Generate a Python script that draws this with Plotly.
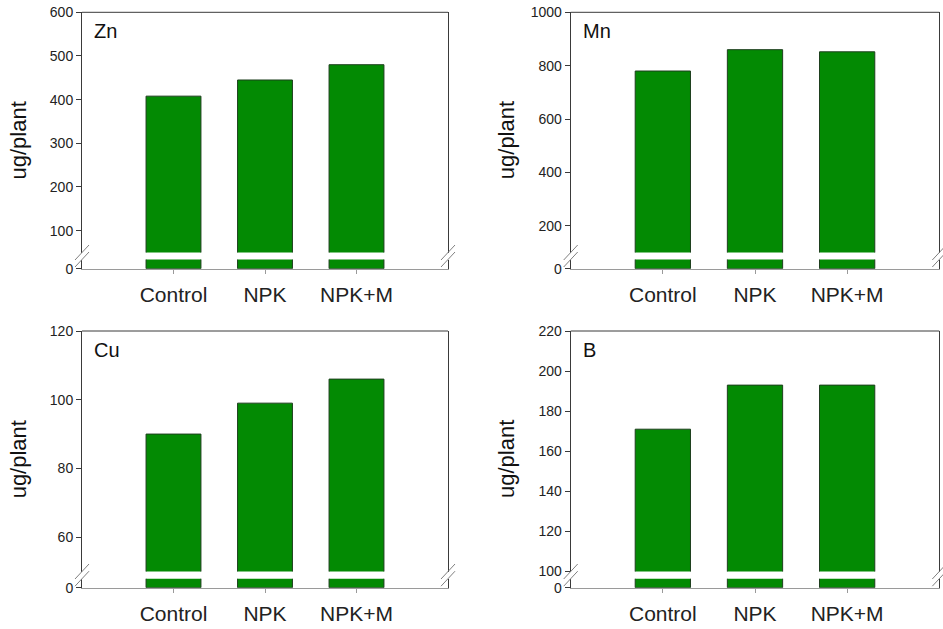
import plotly.graph_objects as go

# Treatments and nutrient uptake (ug/plant)
treatments = ["Control", "NPK", "NPK+M"]
zn = [408, 445, 480]
mn = [780, 860, 852]
cu = [90, 99, 106]
b = [171, 193, 193]

panel_names = ["Zn", "Mn", "Cu", "B"]
panel_values = [zn, mn, cu, b]
upper_ranges = [[50, 600], [100, 1000], [50, 120], [100, 220]]
upper_ticks = [[100, 200, 300, 400, 500, 600],
               [200, 400, 600, 800, 1000],
               [60, 80, 100, 120],
               [100, 120, 140, 160, 180, 200, 220]]
lower_range = [0, 20]

W, H = 943, 629
FONT = "Arial, Liberation Sans, sans-serif"
BAR_FILL = "#038A03"
BAR_LINE = "#1E3F1E"
AXIS_DARK = "#3a3a3a"
AXIS_GRAY = "#9a9a9a"
TEXT = "#222222"


def px(x):
    return x / W


def py(y):
    return 1 - y / H


# pixel geometry of the two columns and two rows
cols = [(82, 448), (570.7, 939.3)]
rows = [dict(top=12.3, ub=252.5, lt=259.5, bot=268.7),
        dict(top=331.0, ub=571.5, lt=578.7, bot=587.7)]

fig = go.Figure()
layout = {}
shapes = []
annotations = []

for i, (name, vals) in enumerate(zip(panel_names, panel_values)):
    r = rows[i // 2]
    c = cols[i % 2]
    xa = f"x{i + 1}" if i else "x"
    ylow = 2 * i + 1
    yup = 2 * i + 2
    ylow_ref = "y" if ylow == 1 else f"y{ylow}"
    yup_ref = f"y{yup}"

    for yref in (ylow_ref, yup_ref):
        fig.add_trace(go.Bar(
            x=treatments, y=vals, xaxis=xa, yaxis=yref,
            marker=dict(color=BAR_FILL, line=dict(color=BAR_LINE, width=1)),
            width=0.6, showlegend=False, hoverinfo="x+y",
        ))

    xkey = "xaxis" if i == 0 else f"xaxis{i + 1}"
    layout[xkey] = dict(
        domain=[px(c[0]), px(c[1])], anchor=ylow_ref, range=[-1, 3],
        type="category", showline=True, linecolor=AXIS_GRAY, linewidth=1,
        ticks="outside", ticklen=4, tickcolor=AXIS_GRAY, showgrid=False,
        zeroline=False, tickfont=dict(family=FONT, size=21, color=TEXT),
        ticklabelstandoff=3, automargin=False, fixedrange=True,
    )
    lkey = "yaxis" if ylow == 1 else f"yaxis{ylow}"
    layout[lkey] = dict(
        domain=[py(r["bot"]), py(r["lt"])], anchor=xa, range=lower_range,
        tickvals=[0], ticktext=["0"], showline=True, mirror=True,
        linecolor=AXIS_DARK, linewidth=1, ticks="outside", ticklen=5,
        tickcolor=AXIS_DARK, showgrid=False, zeroline=False,
        tickfont=dict(family=FONT, size=14, color=TEXT),
        automargin=False, fixedrange=True,
    )
    layout[f"yaxis{yup}"] = dict(
        domain=[py(r["ub"]), py(r["top"])], anchor=xa, range=upper_ranges[i],
        tickvals=upper_ticks[i], showline=True, mirror=True,
        linecolor=AXIS_DARK, linewidth=1, ticks="outside", ticklen=5,
        tickcolor=AXIS_DARK, showgrid=False, zeroline=False,
        tickfont=dict(family=FONT, size=14, color=TEXT),
        automargin=False, fixedrange=True,
    )

    # top border of the frame
    shapes.append(dict(type="line", xref="paper", yref="paper",
                       x0=px(c[0]), x1=px(c[1]), y0=py(r["top"]), y1=py(r["top"]),
                       line=dict(color=AXIS_DARK, width=1)))
    # axis-break marks on both sides
    for xe in c:
        for yc in (r["ub"], r["lt"]):
            shapes.append(dict(type="line", xref="paper", yref="paper",
                               x0=px(xe - 7), y0=py(yc + 7.5),
                               x1=px(xe + 7), y1=py(yc - 7.5),
                               line=dict(color="#808080", width=1)))

    # panel label
    annotations.append(dict(text=name, xref="paper", yref="paper",
                            x=px(c[0] + 10), y=py(r["top"] + 19),
                            xanchor="left", yanchor="middle", showarrow=False,
                            font=dict(family=FONT, size=20, color="#111111")))
    # y-axis title
    annotations.append(dict(text="ug/plant", xref="paper", yref="paper",
                            x=px(c[0] - 64), y=py((r["top"] + r["bot"]) / 2),
                            xanchor="center", yanchor="middle", textangle=-90,
                            showarrow=False,
                            font=dict(family=FONT, size=22, color="#111111")))

fig.update_layout(
    template="none",
    width=W, height=H, margin=dict(l=0, r=0, t=0, b=0, autoexpand=False),
    paper_bgcolor="white", plot_bgcolor="white",
    bargap=0.4, shapes=shapes, annotations=annotations, **layout,
)

fig.write_html("out.html", config={"displayModeBar": False})
